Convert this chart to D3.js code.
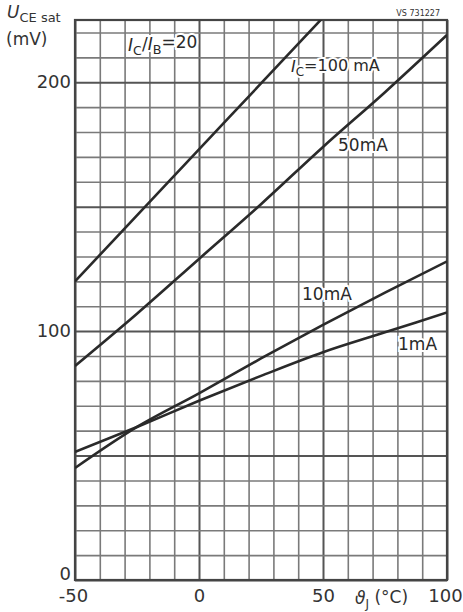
<!DOCTYPE html>
<html>
<head>
<meta charset="utf-8">
<script src="https://cdn.jsdelivr.net/npm/d3@7"></script>
<style>
  body { margin: 0; background: #fff; }
  svg { font-family: "DejaVu Sans", sans-serif; }
</style>
</head>
<body>
<div id="chart"></div>
<script>
// junction temperature (°C) and U_CE sat (mV) per collector current, I_C/I_B = 20
const temps = [-50, -25, 0, 25, 50, 75, 100];
const ic100mA = [120, 146.5, 173, 199.5, 226, null, null];
const ic50mA = [86, 107, 129, 151, 174, 196, 219];
const ic10mA = [45, 61.5, 75, 89, 102.5, 115.5, 128];
const ic1mA = [51.5, 61.5, 72, 82, 91.5, 99.5, 107.5];

const xTicks = [-50, 0, 50, 100];
const yTicks = [0, 100, 200];

const margin = {top: 20, right: 16, bottom: 32, left: 75},
    width = 463 - margin.left - margin.right,
    height = 612 - margin.top - margin.bottom;

const svg = d3.select("#chart")
    .append("svg")
    .attr("width", 463)
    .attr("height", 612);

const g = svg.append("g")
    .attr("transform", "translate(" + margin.left + "," + margin.top + ")");

const x = d3.scaleLinear().domain([-50, 100]).range([0, width]);
const y = d3.scaleLinear().domain([0, 225]).range([height, 0]);

// grid, minor every 10, heavier every 50
const gridX = g.append("g")
    .attr("transform", "translate(0," + height + ")")
    .call(d3.axisBottom(x).tickValues(d3.range(-50, 101, 10)).tickSize(-height).tickFormat(""));
const gridY = g.append("g")
    .call(d3.axisLeft(y).tickValues(d3.range(0, 221, 10)).tickSize(-width).tickFormat(""));
[gridX, gridY].forEach(a => {
    a.select(".domain").remove();
    a.selectAll("line")
        .attr("stroke", d => d % 50 === 0 ? "#555" : "#7a7a7a")
        .attr("stroke-width", d => d % 50 === 0 ? 2 : 1.6);
});

g.append("rect")
    .attr("width", width).attr("height", height)
    .attr("fill", "none").attr("stroke", "#444").attr("stroke-width", 2.2);

// tick labels
const xAxis = g.append("g")
    .attr("transform", "translate(0," + height + ")")
    .call(d3.axisBottom(x).tickValues(xTicks).tickSize(0).tickPadding(9).tickFormat(d => String(d)));
xAxis.select(".domain").remove();
xAxis.selectAll("text")
    .attr("font-size", 18).attr("fill", "#333")
    .attr("font-family", "DejaVu Sans")
    .attr("dx", d => d === -50 ? -2 : (d === 100 ? -2 : 0));

const yAxis = g.append("g")
    .call(d3.axisLeft(y).tickValues(yTicks).tickSize(0).tickPadding(4).tickFormat(d => String(d)));
yAxis.select(".domain").remove();
yAxis.selectAll("text")
    .attr("font-size", 18).attr("fill", "#333")
    .attr("font-family", "DejaVu Sans")
    .attr("dy", d => d === 0 ? "-0.05em" : "0.32em");

// curves
g.append("clipPath").attr("id", "plot")
    .append("rect").attr("width", width).attr("height", height);

const line = d3.line()
    .defined(d => d[1] !== null)
    .x(d => x(d[0]))
    .y(d => y(d[1]))
    .curve(d3.curveMonotoneX);

[ic100mA, ic50mA, ic10mA, ic1mA].forEach(vals => {
    g.append("path")
        .datum(temps.map((t, i) => [t, vals[i]]))
        .attr("clip-path", "url(#plot)")
        .attr("fill", "none")
        .attr("stroke", "#2a2a2a")
        .attr("stroke-width", 2.6)
        .attr("d", line);
});

// labels inside the plot, with white behind them like the original
function label(px, py, parts, size) {
    const t = svg.append("text")
        .attr("x", px).attr("y", py)
        .attr("font-size", size || 17)
        .attr("fill", "#2a2a2a")
        .attr("stroke", "#fff").attr("stroke-width", 4)
        .attr("paint-order", "stroke");
    parts.forEach(p => {
        const s = t.append("tspan").text(p.t);
        if (p.i) s.attr("font-style", "italic");
        if (p.sub) s.attr("font-size", (size || 17) * 0.75).attr("dy", "0.3em");
        if (p.up) s.attr("dy", "-0.3em");
    });
}

label(128, 51, [{t: "I", i: true}, {t: "C", sub: true}, {t: "/", up: true}, {t: "I", i: true}, {t: "B", sub: true}, {t: "=20", up: true}]);
label(291, 72, [{t: "I", i: true}, {t: "C", sub: true}, {t: "=100 mA", up: true}], 16);
label(338, 151, [{t: "50mA"}]);
label(302, 300, [{t: "10mA"}]);
label(398, 350, [{t: "1mA"}]);

// axis titles
const yt = svg.append("text").attr("x", 7).attr("y", 18).attr("font-size", 17).attr("fill", "#333");
yt.append("tspan").attr("font-style", "italic").text("U");
yt.append("tspan").attr("font-size", 13).attr("dy", "0.3em").text("CE sat");
svg.append("text").attr("x", 6).attr("y", 45).attr("font-size", 17).attr("fill", "#333").text("(mV)");

const xt = svg.append("text").attr("x", 355).attr("y", 604).attr("font-size", 17).attr("fill", "#333");
xt.append("tspan").attr("font-style", "italic").text("ϑ");
xt.append("tspan").attr("font-size", 12).attr("dy", "0.3em").text("J");
xt.append("tspan").attr("dy", "-0.3em").text(" (°C)");

svg.append("text").attr("x", 440).attr("y", 16).attr("text-anchor", "end")
    .attr("font-size", 8).attr("fill", "#333").text("VS 731227");
</script>
</body>
</html>
